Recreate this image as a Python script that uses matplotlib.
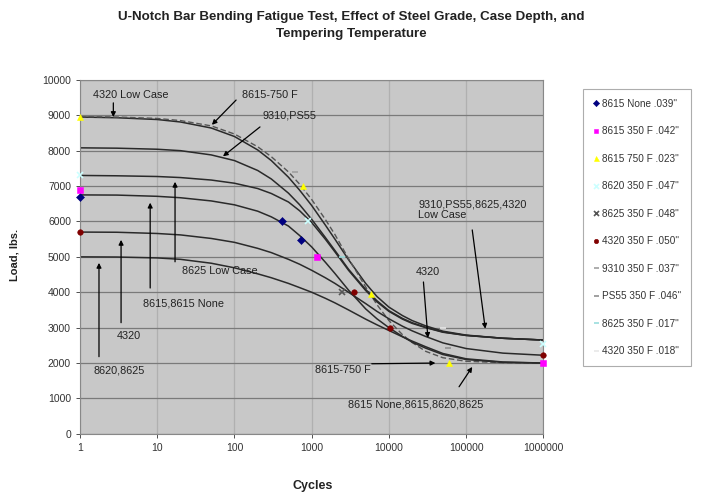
import numpy as np
import matplotlib.pyplot as plt
from matplotlib.ticker import FixedLocator, FixedFormatter

plt.rcParams['font.family'] = ['Liberation Sans', 'DejaVu Sans']

# cycles at which the fitted trend curves were read
cycles_fit = [1, 3, 10, 20, 50, 100, 200, 300, 500, 700, 1000, 1500, 2000,
              3000, 5000, 7000, 1e4, 1.5e4, 2e4, 3e4, 5e4, 1e5, 3e5, 1e6]

# fitted curves (load, lbs)
curve_4320_low = [8950, 8930, 8880, 8810, 8640, 8400, 8020, 7720, 7250, 6880,
                  6450, 5900, 5500, 4920, 4250, 3880, 3580, 3340, 3200, 3050,
                  2900, 2790, 2700, 2650]
curve_8615_750 = [8960, 8950, 8910, 8850, 8700, 8470, 8110, 7830, 7400, 7050,
                  6620, 6060, 5630, 4950, 4150, 3650, 3200, 2800, 2580, 2330,
                  2150, 2050, 2010, 2000]
curve_9310_ps55 = [8080, 8070, 8040, 8000, 7880, 7720, 7440, 7200, 6800, 6470,
                   6060, 5550, 5180, 4650, 4080, 3760, 3480, 3260, 3140, 3010,
                   2880, 2780, 2700, 2650]
curve_8625_low = [7300, 7290, 7270, 7240, 7170, 7080, 6930, 6790, 6550, 6300,
                  5970, 5500, 5140, 4620, 4050, 3730, 3460, 3240, 3120, 3000,
                  2870, 2780, 2700, 2650]
curve_8615_none = [6750, 6745, 6710, 6670, 6580, 6470, 6290, 6130, 5870, 5600,
                   5280, 4850, 4530, 4060, 3530, 3250, 3000, 2750, 2590, 2420,
                   2240, 2100, 2020, 2000]
curve_4320 = [5700, 5695, 5660, 5620, 5520, 5410, 5240, 5120, 4930, 4790,
              4620, 4410, 4250, 4000, 3680, 3460, 3250, 3040, 2910, 2750,
              2570, 2410, 2280, 2220]
curve_8620_8625 = [5000, 4995, 4970, 4930, 4820, 4690, 4520, 4410, 4250, 4130,
                   4000, 3830, 3700, 3500, 3240, 3080, 2920, 2740, 2620, 2460,
                   2270, 2120, 2030, 2000]

# test points
series_labels = ['8615 None .039"', '8615 350 F .042"', '8615 750 F .023"',
                 '8620 350 F .047"', '8625 350 F .048"', '4320 350 F .050"',
                 '9310 350 F .037"', 'PS55 350 F .046"', '8625 350 F .017"',
                 '4320 350 F .018"']
series_x = [[1, 415, 730],
            [1, 1170, 1e6],
            [1, 780, 5900, 60000],
            [1, 900, 1e6],
            [2470],
            [1, 3540, 10400, 1e6],
            [600],
            [59000],
            [2470],
            [50000]]
series_y = [[6700, 6000, 5480],
            [6900, 5000, 2000],
            [8950, 7000, 3950, 2000],
            [7300, 6000, 2550],
            [4000],
            [5700, 4000, 3000, 2220],
            [7400],
            [2430],
            [5000],
            [3000]]
series_color = ['#000080', '#ff00ff', '#ffff00', '#ccffff', '#555555',
                '#800000', '#a0a0a0', '#909090', '#99dddd', '#e8e8e8']
series_marker = ['D', 's', '^', 'x', 'x', 'o', '_', '_', '_', '_']

y_ticks = list(range(0, 10001, 1000))
x_ticks = [1, 10, 100, 1000, 10000, 100000, 1000000]

fig = plt.figure(figsize=(7.02, 4.93), dpi=100)
ax = fig.add_axes([0.114, 0.12, 0.66, 0.718])
ax.set_facecolor('#c8c8c8')

ax.set_xscale('log')
ax.set_xlim(1, 1e6)
ax.set_ylim(0, 10000)
ax.xaxis.set_major_locator(FixedLocator(x_ticks))
ax.xaxis.set_major_formatter(FixedFormatter([str(v) for v in x_ticks]))
ax.xaxis.set_minor_locator(FixedLocator([]))
ax.set_yticks(y_ticks)
ax.tick_params(labelsize=7.5, colors='#333333', length=3, width=0.6)
ax.grid(True, axis='y', color='#7a7a7a', lw=0.9)
ax.grid(True, axis='x', color='#b0b0b0', lw=0.9)
ax.set_axisbelow(True)
for s in ax.spines.values():
    s.set_color('#888888')
    s.set_linewidth(0.8)

lc = '#2a2a2a'
ax.plot(cycles_fit, curve_4320_low, color=lc, lw=1.1)
ax.plot(cycles_fit, curve_8615_750, color='#555555', lw=1.0, ls=(0, (4, 2)))
ax.plot(cycles_fit, curve_9310_ps55, color=lc, lw=1.1)
ax.plot(cycles_fit, curve_8625_low, color=lc, lw=1.1)
ax.plot(cycles_fit, curve_8615_none, color=lc, lw=1.1)
ax.plot(cycles_fit, curve_4320, color=lc, lw=1.1)
ax.plot(cycles_fit, curve_8620_8625, color=lc, lw=1.1)

handles = []
for xs, ys, c, m, lab in zip(series_x, series_y, series_color, series_marker,
                             series_labels):
    size = 4.5 if m in 'x_^' else 4
    h, = ax.plot(xs, ys, ls='none', marker=m, color=c, ms=size,
                 mew=1.2 if m in 'x_' else 0.4, label=lab, clip_on=False,
                 zorder=5)
    handles.append(h)

# annotations: (text, text x, text y, arrow start, arrow tip)
notes = [
    ('4320 Low Case', 1.47, 9580, (2.7, 9350), (2.7, 8950)),
    ('8615-750 F', 126, 9580, (105, 9430), (51, 8730)),
    ('9310,PS55', 228, 9000, (214, 8670), (71, 7840)),
    ('8625 Low Case', 21, 4600, (17, 4860), (17, 7120)),
    ('8615,8615 None', 6.6, 3670, (8.1, 4120), (8.1, 6530)),
    ('4320', 3.0, 2770, (3.4, 3140), (3.4, 5480)),
    ('8620,8625', 1.48, 1780, (1.76, 2180), (1.76, 4830)),
    ('9310,PS55,8625,4320\nLow Case', 24000, 6330, (1.2e5, 5760), (1.77e5, 2970)),
    ('4320', 22000, 4580, (2.8e4, 4290), (3.2e4, 2710)),
    ('8615-750 F', 1100, 1810, (6000, 1980), (4e4, 2000)),
    ('8615 None,8615,8620,8625', 2950, 820, (8.1e4, 1330), (1.2e5, 1890)),
]
for txt, tx, ty, start, tip in notes:
    ax.text(tx, ty, txt, fontsize=7.8, color='#222222', ha='left',
            va='center', linespacing=1.05)
    ax.annotate('', xy=tip, xytext=start,
                arrowprops=dict(arrowstyle='-|>', color='black', lw=0.9,
                                mutation_scale=7, shrinkA=0, shrinkB=0))

fig.text(0.5, 0.9655,
         'U-Notch Bar Bending Fatigue Test, Effect of Steel Grade, Case Depth, and',
         ha='center', va='center', fontsize=9.6, fontweight='bold',
         color='#222222')
fig.text(0.5, 0.931, 'Tempering Temperature',
         ha='center', va='center', fontsize=9.6, fontweight='bold',
         color='#222222')
fig.text(0.02, 0.483, 'Load, lbs.', rotation=90, ha='center', va='center',
         fontsize=8, fontweight='bold', color='#222222')
fig.text(0.445, 0.014, 'Cycles', ha='center', va='center', fontsize=9,
         fontweight='bold', color='#222222')

leg = fig.legend(handles=handles, loc='upper left',
                 bbox_to_anchor=(0.823, 0.83), fontsize=7.2, frameon=True,
                 fancybox=False, edgecolor='#999999', labelspacing=1.75,
                 handlelength=0.6, handletextpad=0.3, borderpad=1.0,
                 markerscale=0.8)
leg.get_frame().set_linewidth(0.8)
for t in leg.get_texts():
    t.set_color('#333333')

fig.savefig('out.png', dpi=100)
